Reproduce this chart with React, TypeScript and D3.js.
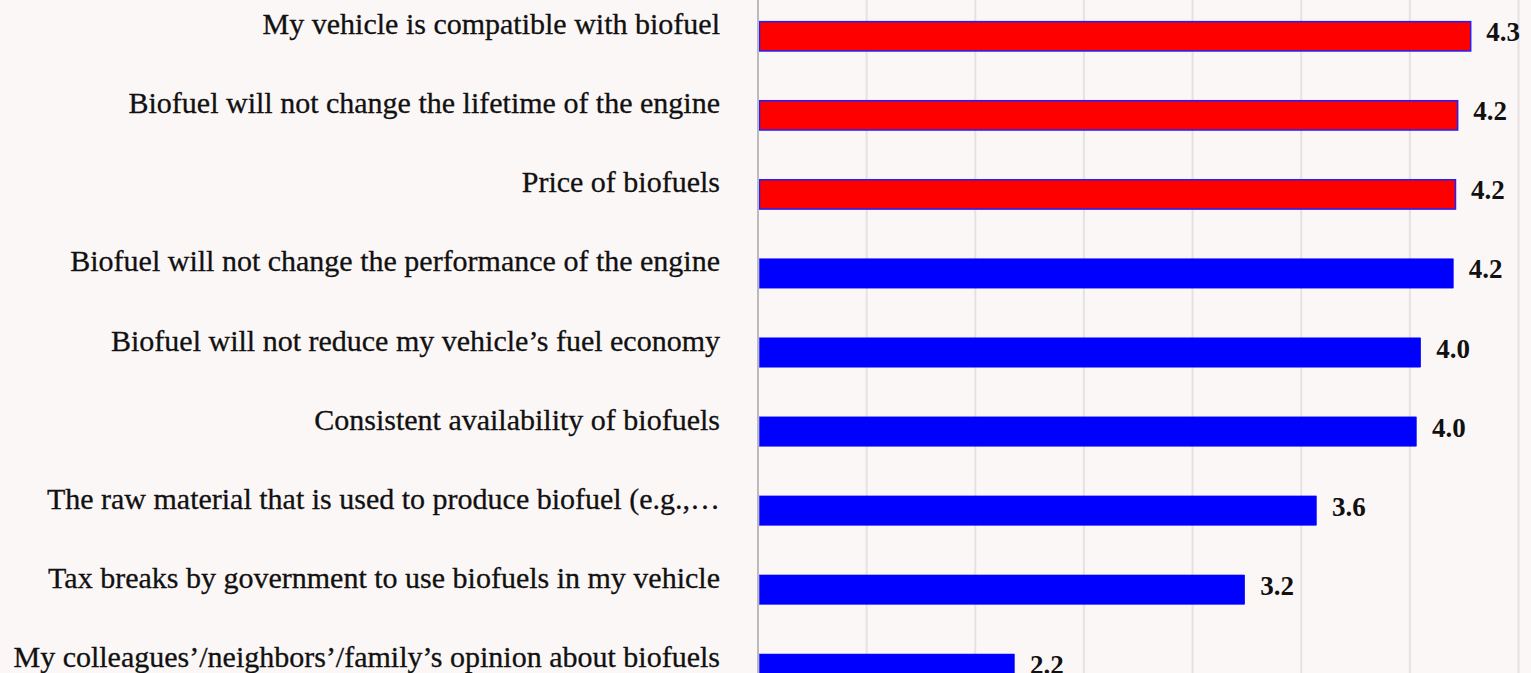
import React from "react";
import * as d3 from "d3";

const categories = [
  "My vehicle is compatible with biofuel",
  "Biofuel will not change the lifetime of the engine",
  "Price of biofuels",
  "Biofuel will not change the performance of the engine",
  "Biofuel will not reduce my vehicle\u2019s fuel economy",
  "Consistent availability of biofuels",
  "The raw material that is used to produce biofuel (e.g.,\u2026",
  "Tax breaks by government to use biofuels in my vehicle",
  "My colleagues\u2019/neighbors\u2019/family\u2019s opinion about biofuels",
];
const values = [4.28, 4.22, 4.21, 4.2, 4.05, 4.03, 3.57, 3.24, 2.18];
const highlighted = [true, true, true, false, false, false, false, false, false];
const xTicks = [1, 1.5, 2, 2.5, 3, 3.5, 4, 4.5];

const W = 1531;
const H = 673;

export default function App() {
  const x = d3.scaleLinear().domain([1, 4.5]).range([758, 1518.5]);
  const y = d3
    .scaleBand<string>()
    .domain(categories)
    .range([-3.2, 708.2])
    .paddingInner(0.629)
    .paddingOuter(0.3145);
  const bw = y.bandwidth();
  return (
    <div style={{ position: "fixed", left: 0, top: 0, width: W, height: H, overflow: "hidden" }}>
      <svg width={W} height={H} style={{ display: "block", background: "#fcf7f7" }}>
        <rect x={0} y={0} width={W} height={H} fill="#fcf7f7" />
        {xTicks.slice(1).map((t) => (
          <line key={t} x1={x(t)} x2={x(t)} y1={0} y2={H} stroke="#e6e2e2" strokeWidth={2} />
        ))}
        {categories.map((c, i) => {
          const y0 = y(c)!;
          const red = highlighted[i];
          return (
            <g key={c}>
              <rect
                x={x(1) + 1.5}
                y={y0}
                width={x(values[i]) - x(1) - 1.5}
                height={bw}
                fill={red ? "#ff0000" : "#0000ff"}
                stroke={red ? "#2020ff" : "#0000ff"}
                strokeWidth={red ? 1.5 : 0.5}
              />
              <text
                x={720}
                y={y0 + bw / 2 - 2}
                textAnchor="end"
                fontFamily="'Liberation Serif', serif"
                fontSize={30}
                fill="#111"
                stroke="#111"
                strokeWidth={0.3}
              >
                {c}
              </text>
              <text
                x={x(values[i]) + 15.5}
                y={y0 + bw / 2 + 5}
                fontFamily="'Liberation Serif', serif"
                fontWeight="bold"
                fontSize={27}
                fill="#111"
              >
                {values[i].toFixed(1)}
              </text>
            </g>
          );
        })}
        <line x1={x(1)} x2={x(1)} y1={0} y2={H} stroke="#bdbaba" strokeWidth={2} />
      </svg>
    </div>
  );
}
